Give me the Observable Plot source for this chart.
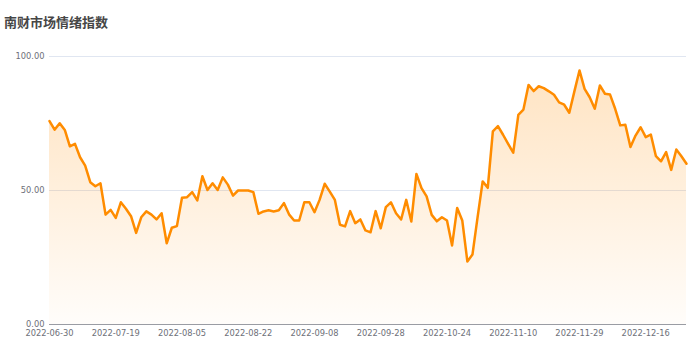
<!DOCTYPE html>
<html><head><meta charset="utf-8">
<script src="https://cdn.jsdelivr.net/npm/d3@7"></script>
<script src="https://cdn.jsdelivr.net/npm/@observablehq/plot@0.6"></script>
<style>
body{margin:0;background:#fff;}
#title{height:40px;box-sizing:border-box;padding:14px 0 0 4px;font:bold 13px "Noto Sans CJK SC",sans-serif;color:#464646;line-height:16px;}
</style></head><body>
<div id="title">南财市场情绪指数</div>
<div id="chart"></div>
<script>
const values = [
75.9,72.7,75.1,72.6,66.5,67.4,62.4,59.3,53.1,51.6,
52.7,41.0,42.8,39.8,45.6,43.2,40.4,34.2,40.0,42.2,
41.0,39.2,41.5,30.3,36.1,36.7,47.3,47.5,49.4,46.3,
55.3,50.2,52.7,50.2,54.9,52.2,48.1,50.0,50.0,50.0,
49.4,41.3,42.2,42.6,42.2,42.6,45.3,41.1,38.8,38.8,
45.6,45.6,41.9,46.5,52.5,49.6,46.5,37.2,36.6,42.3,
37.8,39.2,35.1,34.4,42.3,35.9,43.8,45.6,41.5,39.2,
46.5,38.4,56.2,50.9,47.8,40.9,38.5,40.0,38.8,29.5,
43.5,38.8,23.5,26.1,40.0,53.4,51.0,72.1,74.0,70.8,
67.4,64.1,78.2,80.2,89.4,87.1,88.9,88.2,87.0,85.7,
82.9,82.0,79.0,87.0,94.8,87.9,84.8,80.5,89.2,86.1,
85.8,80.5,74.3,74.5,66.2,70.5,73.6,69.9,70.9,62.8,
60.9,64.3,57.7,65.3,62.8,60.0
];
const tickIndex = [0,13,26,39,52,65,78,91,104,117];
const tickLabels = ["2022-06-30","2022-07-19","2022-08-05","2022-08-22","2022-09-08","2022-09-28","2022-10-24","2022-11-10","2022-11-29","2022-12-16"];
const yTicks = [0,50,100];

const data = values.map((v,i)=>({i, v}));

const defs = () => {
  const d = d3.create("svg:defs");
  const g = d.append("linearGradient").attr("id","areaGrad").attr("x1",0).attr("y1",0).attr("x2",0).attr("y2",1);
  g.append("stop").attr("offset","0%").attr("stop-color","#ff8c00").attr("stop-opacity",0.24);
  g.append("stop").attr("offset","100%").attr("stop-color","#ff8c00").attr("stop-opacity",0.02);
  return d.node();
};

const chart = Plot.plot({
  width: 700, height: 310,
  marginLeft: 49, marginRight: 14, marginTop: 16, marginBottom: 26,
  style: {fontFamily: "DejaVu Sans, sans-serif", fontSize: "8.3px", color: "#6e7079", background: "#fff"},
  x: {domain: [0, values.length - 1]},
  y: {domain: [0, 100]},
  marks: [
    defs,
    Plot.gridY([50, 100], {stroke: "#e0e6f1", strokeOpacity: 1}),
    Plot.areaY(data, {x: "i", y: "v", fill: "url(#areaGrad)"}),
    Plot.ruleY([0], {stroke: "#9a9ca3"}),
    Plot.lineY(data, {x: "i", y: "v", stroke: "#ff8c00", strokeWidth: 2.5, strokeLinejoin: "round"}),
    Plot.axisX(tickIndex, {tickSize: 0, tickPadding: 6, label: null, tickFormat: d => tickLabels[tickIndex.indexOf(d)]}),
    Plot.axisY(yTicks, {tickSize: 0, tickPadding: 5, label: null, tickFormat: d3.format(".2f")})
  ]
});
document.getElementById("chart").appendChild(chart);
</script></body></html>
